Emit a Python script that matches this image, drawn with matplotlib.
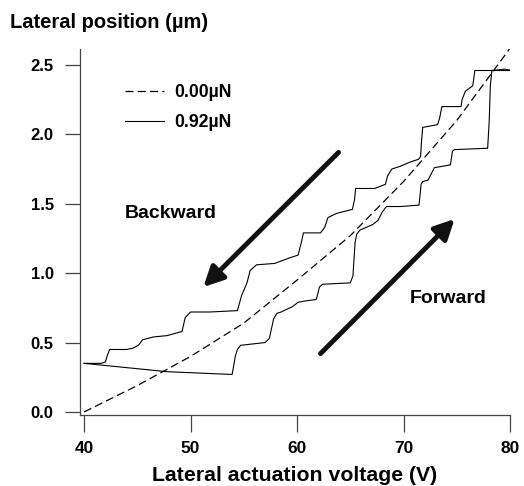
import matplotlib
matplotlib.use("Agg")
import matplotlib.pyplot as plt

plt.rcParams['font.family'] = ['Liberation Sans', 'DejaVu Sans']
plt.rcParams['font.weight'] = 'bold'

# dashed curve, 0.00 uN
v_free = [40, 45, 50, 55, 60, 65, 70, 75, 80]
pos_free = [0.0, 0.19, 0.40, 0.64, 0.95, 1.27, 1.66, 2.10, 2.62]

# solid loop, 0.92 uN - forward (lower) branch
v_fwd = [40.0, 47.8, 53.9, 54.0, 54.2, 54.4, 54.7, 57.0, 57.4, 57.6, 57.8, 58.1, 58.5, 59.6,
         60.1, 60.8, 61.8, 61.95, 62.1, 62.4, 65.0, 65.25, 65.35, 65.45, 65.6, 65.9, 67.1, 67.6,
         68.0, 68.4, 69.7, 71.45, 71.55, 71.65, 71.8, 72.3, 72.7, 72.9, 74.4, 74.5, 74.6, 74.8,
         77.9, 78.05, 78.15, 78.3, 79.5, 80.2]
pos_fwd = [0.35, 0.29, 0.27, 0.31, 0.40, 0.45, 0.48, 0.50, 0.53, 0.60, 0.67, 0.71, 0.72, 0.76,
           0.79, 0.80, 0.81, 0.85, 0.90, 0.92, 0.93, 0.98, 1.10, 1.22, 1.28, 1.31, 1.35, 1.38,
           1.44, 1.48, 1.48, 1.49, 1.56, 1.64, 1.66, 1.67, 1.73, 1.76, 1.78, 1.83, 1.88, 1.89,
           1.90, 2.10, 2.35, 2.46, 2.47, 2.46]

# backward (upper) branch
v_bwd = [80.2, 76.7, 76.5, 75.8, 75.5, 75.4, 73.6, 73.4, 73.2, 71.8, 71.7, 71.6,
         71.4, 70.6, 69.7, 68.9, 68.5, 68.3, 67.3, 65.5, 65.4, 65.2, 63.7, 62.9,
         62.6, 62.2, 60.6, 60.4, 60.1, 59.3, 57.9, 56.2, 55.6, 55.3, 54.8, 54.4,
         51.8, 50.0, 49.5, 49.2, 47.8, 46.5, 45.5, 45.1, 44.6, 44.0, 42.4, 42.2,
         42.0, 41.6, 40.0]
pos_bwd = [2.46, 2.46, 2.35, 2.31, 2.25, 2.20, 2.20, 2.12, 2.07, 2.05, 1.96, 1.84,
           1.82, 1.80, 1.77, 1.75, 1.70, 1.64, 1.61, 1.61, 1.53, 1.46, 1.43, 1.40,
           1.33, 1.29, 1.29, 1.22, 1.13, 1.11, 1.07, 1.06, 1.02, 0.93, 0.84, 0.73,
           0.72, 0.72, 0.68, 0.58, 0.55, 0.54, 0.52, 0.48, 0.46, 0.45, 0.45, 0.41,
           0.36, 0.35, 0.35]

x_ticks = [40, 50, 60, 70, 80]
y_ticks = [0.0, 0.5, 1.0, 1.5, 2.0, 2.5]

fig = plt.figure(figsize=(5.24, 4.86), dpi=100)
ax = fig.add_axes([0.1527, 0.1461, 0.8206, 0.7531])

ax.plot(v_free, pos_free, color='black', lw=0.9, linestyle=(0, (6.4, 3.4)), label='0.00µN')
ax.plot(v_fwd, pos_fwd, color='black', lw=0.8, label='0.92µN')
ax.plot(v_bwd, pos_bwd, color='black', lw=0.8)

ax.annotate('', xy=(51.2, 0.90), xytext=(63.9, 1.87),
            arrowprops=dict(arrowstyle='-|>', lw=3.5, mutation_scale=30,
                            color='#111111', shrinkA=0, shrinkB=0))
ax.annotate('', xy=(74.8, 1.39), xytext=(62.2, 0.42),
            arrowprops=dict(arrowstyle='-|>', lw=3.5, mutation_scale=30,
                            color='#111111', shrinkA=0, shrinkB=0))
ax.text(43.85, 1.43, 'Backward', fontsize=14, fontweight='bold', va='center', ha='left')
ax.text(70.6, 0.82, 'Forward', fontsize=14, fontweight='bold', va='center', ha='left')

ax.set_xlim(39.62, 80.0)
ax.set_ylim(-0.022, 2.615)
ax.set_xticks(x_ticks)
ax.set_yticks(y_ticks)
ax.set_xticklabels([str(t) for t in x_ticks])
ax.set_yticklabels([f'{t:.1f}' for t in y_ticks])
ax.tick_params(axis='y', length=11, width=0.9, pad=8, labelsize=12, color='#444444')
ax.tick_params(axis='x', length=12, width=0.9, pad=7, labelsize=12.5, color='#444444')
for s in ['top', 'right']:
    ax.spines[s].set_visible(False)
for s in ['left', 'bottom']:
    ax.spines[s].set_color('#444444')
    ax.spines[s].set_linewidth(0.9)

ax.set_xlabel('Lateral actuation voltage (V)', fontsize=15.3, fontweight='bold', labelpad=7)
fig.text(10 / 524, 1 - 22 / 486, 'Lateral position (µm)', fontsize=14.5,
         fontweight='bold', ha='left', va='center')

ax.legend(loc='upper left', bbox_to_anchor=(0.105, 0.903), frameon=False,
          fontsize=12.7, handlelength=2.2, handletextpad=0.6, labelspacing=0.7,
          borderaxespad=0, borderpad=0)

fig.savefig('out.png', dpi=100)
